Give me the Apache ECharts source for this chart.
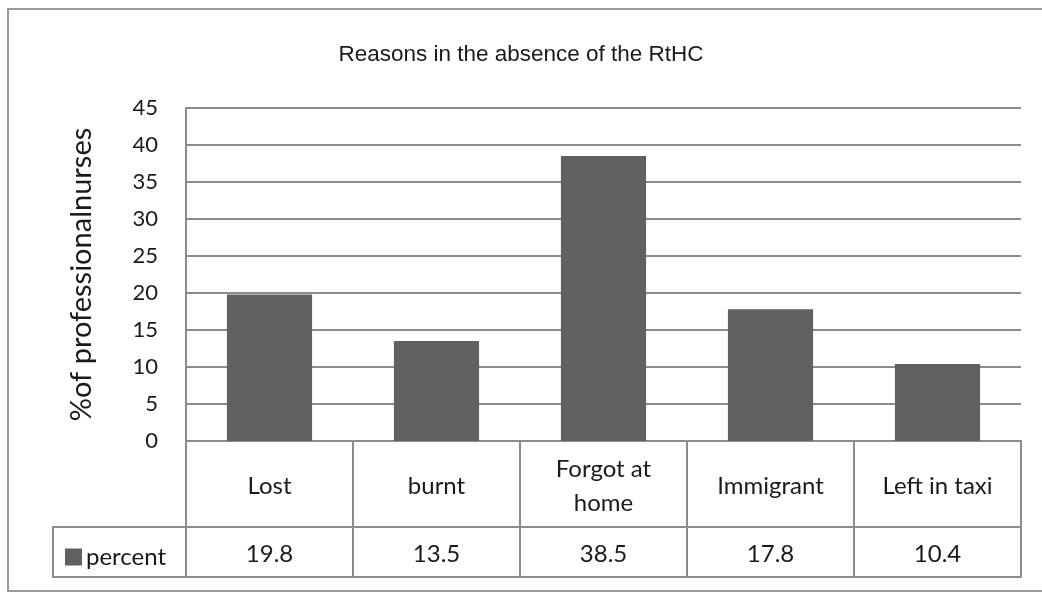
<!DOCTYPE html>
<html>
<head>
<meta charset="utf-8">
<script src="https://cdn.jsdelivr.net/npm/echarts@6/dist/echarts.min.js"></script>
<style>
  html, body { margin: 0; padding: 0; background: #fff; }
  #chart { width: 1042px; height: 592px; }
</style>
</head>
<body>
<div id="chart"></div>
<script>
// Reasons reported for not having the RtHC
const categories = ['Lost', 'burnt', 'Forgot at\nhome', 'Immigrant', 'Left in taxi'];
const percentValues = [19.8, 13.5, 38.5, 17.8, 10.4];
const valueLabels = ['19.8', '13.5', '38.5', '17.8', '10.4'];
const seriesName = 'percent';
const titleText = 'Reasons in the absence of the RtHC';
const yAxisName = '%of professionalnurses';

const lineGray = '#8c8c8c';
const barGray = '#616161';
const textColor = '#1a1a1a';
const bodyFont = 'Lato, "Open Sans", sans-serif';

const chart = echarts.init(document.getElementById('chart'), null, { renderer: 'canvas' });

const gridLeft = 186, gridRight = 21, gridTop = 108, gridBottom = 151;
const rowOne = 86, rowTwo = 136;
const axisY = 592 - gridBottom;

chart.setOption({
  animation: false,
  backgroundColor: '#fff',
  title: {
    text: titleText,
    left: 'center',
    top: 38,
    textStyle: { fontFamily: '"Liberation Sans", Arial, sans-serif', fontSize: 22.5, fontWeight: 'normal', color: textColor }
  },
  legend: {
    left: 60,
    top: 540,
    icon: 'rect',
    itemWidth: 17,
    itemHeight: 17,
    data: [seriesName],
    textStyle: { fontFamily: bodyFont, fontSize: 24, color: textColor, padding: [0, 0, 0, -1] }
  },
  grid: { left: gridLeft, right: gridRight, top: gridTop, bottom: gridBottom, containLabel: false },
  xAxis: [
    {
      type: 'category',
      data: categories,
      position: 'bottom',
      axisLine: { show: true, lineStyle: { color: lineGray, width: 2 } },
      axisTick: { show: true, interval: 0, length: rowTwo, lineStyle: { color: lineGray, width: 2 } },
      axisLabel: {
        interval: 0, margin: 45, verticalAlign: 'middle', lineHeight: 34,
        fontFamily: bodyFont, fontSize: 24, color: textColor
      }
    },
    {
      type: 'category',
      data: categories,
      position: 'bottom',
      offset: rowOne,
      axisLine: { show: true, lineStyle: { color: lineGray, width: 2 } },
      axisTick: { show: false },
      axisLabel: {
        interval: 0, margin: 27, verticalAlign: 'middle',
        fontFamily: bodyFont, fontSize: 24, color: textColor,
        formatter: (v, i) => valueLabels[i]
      }
    },
    {
      type: 'category',
      data: categories,
      position: 'bottom',
      offset: rowTwo,
      axisLine: { show: true, lineStyle: { color: lineGray, width: 2 } },
      axisTick: { show: false },
      axisLabel: { show: false }
    }
  ],
  yAxis: {
    type: 'value',
    min: 0,
    max: 45,
    interval: 5,
    name: yAxisName,
    nameLocation: 'middle',
    nameGap: 90,
    nameTextStyle: { fontFamily: bodyFont, fontSize: 29, color: textColor },
    axisLine: { show: true, lineStyle: { color: lineGray, width: 2 } },
    axisTick: { show: false },
    axisLabel: { margin: 28, fontFamily: bodyFont, fontSize: 22, color: textColor },
    splitLine: { show: true, lineStyle: { color: lineGray, width: 2 } }
  },
  series: [
    {
      name: seriesName,
      type: 'bar',
      xAxisIndex: 0,
      data: percentValues,
      barWidth: '51%',
      itemStyle: { color: barGray }
    }
  ],
  graphic: [
    // outer chart frame
    { type: 'rect', shape: { x: 8, y: 9, width: 1060, height: 582 }, style: { fill: null, stroke: '#9a9a9a', lineWidth: 2 }, silent: true },
    // legend key cell of the data table
    { type: 'polyline', shape: { points: [[gridLeft, axisY + rowOne], [53, axisY + rowOne], [53, axisY + rowTwo], [gridLeft, axisY + rowTwo]] }, style: { fill: null, stroke: lineGray, lineWidth: 2 }, silent: true }
  ]
});
</script>
</body>
</html>
